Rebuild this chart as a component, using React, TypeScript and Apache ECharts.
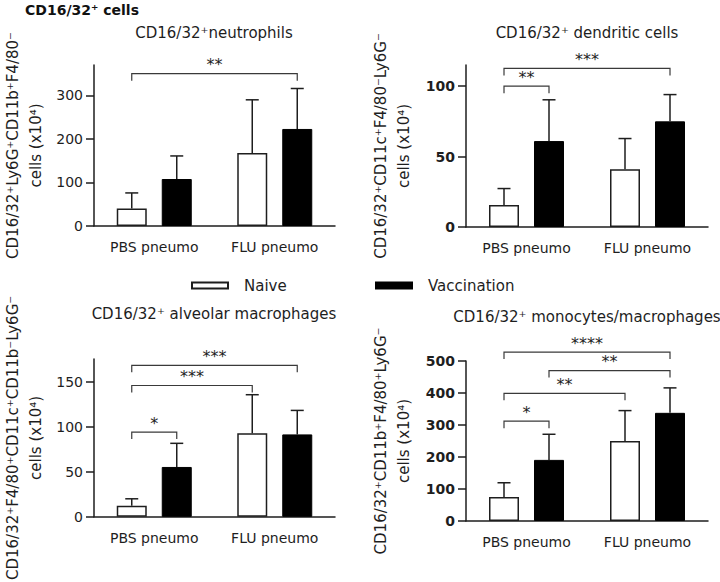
import React, { useEffect, useRef } from "react";
import * as echarts from "echarts";

// ---------- data ----------
const categories = ["PBS pneumo", "FLU pneumo"];
const groupNames = ["Naive", "Vaccination"];
const mainTitle = "CD16/32⁺ cells";
const panelTitles = [
  "CD16/32⁺neutrophils",
  "CD16/32⁺ dendritic cells",
  "CD16/32⁺ alveolar macrophages",
  "CD16/32⁺ monocytes/macrophages",
];
const yAxisNames = [
  "CD16/32⁺Ly6G⁺CD11b⁺F4/80⁻\ncells (x10⁴)",
  "CD16/32⁺CD11c⁺F4/80⁻Ly6G⁻\ncells (x10⁴)",
  "CD16/32⁺F4/80⁺CD11c⁺CD11b⁻Ly6G⁻\ncells (x10⁴)",
  "CD16/32⁺CD11b⁺F4/80⁺Ly6G⁻\ncells (x10⁴)",
];
const yMax = [370, 115, 175, 500];
const yInterval = [100, 50, 50, 100];

// means and upper error-bar ends (mean + SD), per category
const neutroNaive = [40, 168];
const neutroNaiveErr = [76, 290];
const neutroVacc = [108, 223];
const neutroVaccErr = [161, 316];

const dendNaive = [15.6, 41];
const dendNaiveErr = [27.3, 62.8];
const dendVacc = [61, 75];
const dendVaccErr = [90.3, 94];

const alvNaive = [12.4, 92.8];
const alvNaiveErr = [20, 135.4];
const alvVacc = [55.3, 91.4];
const alvVaccErr = [81.5, 118];

const monoNaive = [75, 250];
const monoNaiveErr = [119.5, 345];
const monoVacc = [191, 338];
const monoVaccErr = [271, 416];

// significance brackets: [fromCategory, fromGroup, toCategory, toGroup, yLevel, label]
const neutroBrackets: any[] = [[0, 0, 1, 1, 350, "**"]];
const dendBrackets: any[] = [
  [0, 0, 0, 1, 100, "**"],
  [0, 0, 1, 1, 112.6, "***"],
];
const alvBrackets: any[] = [
  [0, 0, 0, 1, 94, "*"],
  [0, 0, 1, 0, 145.6, "***"],
  [0, 0, 1, 1, 168, "***"],
];
const monoBrackets: any[] = [
  [0, 0, 0, 1, 312, "*"],
  [0, 0, 1, 0, 399, "**"],
  [0, 1, 1, 1, 470, "**"],
  [0, 0, 1, 1, 528, "****"],
];

const panels = [
  { naive: neutroNaive, naiveErr: neutroNaiveErr, vacc: neutroVacc, vaccErr: neutroVaccErr, brackets: neutroBrackets },
  { naive: dendNaive, naiveErr: dendNaiveErr, vacc: dendVacc, vaccErr: dendVaccErr, brackets: dendBrackets },
  { naive: alvNaive, naiveErr: alvNaiveErr, vacc: alvVacc, vaccErr: alvVaccErr, brackets: alvBrackets },
  { naive: monoNaive, naiveErr: monoNaiveErr, vacc: monoVacc, vaccErr: monoVaccErr, brackets: monoBrackets },
];

// ---------- layout / style ----------
const FONT = "'DejaVu Sans', sans-serif";
const INK = "#1e1e1e";
const grids = [
  { left: 93, top: 65, width: 242, height: 161 },
  { left: 466, top: 65, width: 242, height: 162 },
  { left: 93, top: 359, width: 242, height: 160 },
  { left: 466, top: 361, width: 242, height: 160 },
];
const titlePos = [
  [214, 33],
  [587, 33],
  [214, 314],
  [587, 317],
];
const nameGaps = [47, 51, 47, 51];
const boldTicks = [false, true, false, true];
const BAR_W = 30;
const HALF_OFF = 22.5; // (barWidth + gap) / 2

function errorSeries(panelIdx: number, means: number[], ups: number[], side: number) {
  return {
    type: "custom",
    xAxisIndex: panelIdx,
    yAxisIndex: panelIdx,
    silent: true,
    clip: false,
    z: 3,
    data: categories.map((_, i) => [i, means[i], ups[i]]),
    encode: { x: 0, y: [1, 2] },
    renderItem: (params: any, api: any) => {
      const cat = api.value(0);
      const base = api.coord([cat, api.value(1)]);
      const top = api.coord([cat, api.value(2)]);
      const x = base[0] + side * HALF_OFF;
      const st = { stroke: INK, lineWidth: 1.5 };
      return {
        type: "group",
        children: [
          { type: "line", shape: { x1: x, y1: base[1], x2: x, y2: top[1] }, style: st },
          { type: "line", shape: { x1: x - 6.5, y1: top[1], x2: x + 6.5, y2: top[1] }, style: st },
        ],
      };
    },
  };
}

function bracketSeries(panelIdx: number, brackets: any[]) {
  return {
    type: "custom",
    xAxisIndex: panelIdx,
    yAxisIndex: panelIdx,
    silent: true,
    clip: false,
    z: 4,
    data: brackets.map((b) => [b[0], b[4]]),
    encode: { x: 0, y: 1 },
    renderItem: (params: any, api: any) => {
      const b = brackets[params.dataIndex];
      const p1 = api.coord([b[0], b[4]]);
      const p2 = api.coord([b[2], b[4]]);
      const x1 = p1[0] + (b[1] ? HALF_OFF : -HALF_OFF);
      const x2 = p2[0] + (b[3] ? HALF_OFF : -HALF_OFF);
      const y = p1[1];
      return {
        type: "group",
        children: [
          {
            type: "polyline",
            shape: { points: [[x1, y + 7], [x1, y], [x2, y], [x2, y + 7]] },
            style: { stroke: "#3a3a3a", lineWidth: 1.2, fill: null },
          },
          {
            type: "text",
            x: (x1 + x2) / 2,
            y: y - 1,
            style: {
              text: b[5],
              fill: INK,
              font: `16px ${FONT}`,
              align: "center",
              verticalAlign: "bottom",
            },
          },
        ],
      };
    },
  };
}

export default function App() {
  const ref = useRef<HTMLDivElement>(null);
  useEffect(() => {
    if (!ref.current) return;
    const chart = echarts.init(ref.current, undefined, { renderer: "svg" });

    const series: any[] = [];
    panels.forEach((p, i) => {
      series.push({
        type: "bar",
        name: groupNames[0],
        xAxisIndex: i,
        yAxisIndex: i,
        data: p.naive,
        barWidth: BAR_W,
        barGap: "50%",
        itemStyle: { color: "#ffffff", borderColor: INK, borderWidth: 1.5 },
        silent: true,
      });
      series.push({
        type: "bar",
        name: groupNames[1],
        xAxisIndex: i,
        yAxisIndex: i,
        data: p.vacc,
        barWidth: BAR_W,
        barGap: "50%",
        itemStyle: { color: "#000000", borderColor: "#000000", borderWidth: 1 },
        silent: true,
      });
      series.push(errorSeries(i, p.naive, p.naiveErr, -1));
      series.push(errorSeries(i, p.vacc, p.vaccErr, 1));
      series.push(bracketSeries(i, p.brackets));
    });

    const legendBase = {
      top: 273,
      icon: "rect",
      itemWidth: 36,
      itemHeight: 6,
      selectedMode: false,
      textStyle: { color: INK, fontFamily: FONT, fontSize: 15, padding: [0, 0, 0, 11] },
    };

    const option: any = {
      animation: false,
      backgroundColor: "#ffffff",
      grid: grids.map((g) => ({ ...g, containLabel: false })),
      xAxis: grids.map((_, i) => ({
        type: "category",
        gridIndex: i,
        data: categories,
        axisLine: { lineStyle: { color: INK, width: 1.5 } },
        axisTick: { alignWithLabel: true, length: 7, lineStyle: { color: INK, width: 1.5 } },
        axisLabel: { color: INK, fontFamily: FONT, fontSize: 14, margin: 14 },
        splitLine: { show: false },
      })),
      yAxis: grids.map((_, i) => ({
        type: "value",
        gridIndex: i,
        min: 0,
        max: yMax[i],
        interval: yInterval[i],
        name: yAxisNames[i],
        nameLocation: "middle",
        nameRotate: 90,
        nameGap: nameGaps[i],
        nameTextStyle: { color: INK, fontFamily: FONT, fontSize: 15, lineHeight: 23 },
        axisLine: { show: true, lineStyle: { color: INK, width: 1.5 } },
        axisTick: { show: true, length: 8, lineStyle: { color: INK, width: 1.5 } },
        axisLabel: {
          color: INK,
          fontFamily: FONT,
          fontSize: 14,
          margin: 11,
          fontWeight: boldTicks[i] ? "bold" : "normal",
          showMaxLabel: yMax[i] % yInterval[i] === 0,
        },
        splitLine: { show: false },
      })),
      legend: [
        { ...legendBase, data: [groupNames[0]], left: 186 },
        { ...legendBase, data: [groupNames[1]], left: 370 },
      ],
      graphic: [
        {
          type: "text",
          left: 25,
          top: 3,
          style: { text: mainTitle, fill: "#111", font: `bold 14px ${FONT}` },
        },
        ...panelTitles.map((t, i) => ({
          type: "text",
          x: titlePos[i][0],
          y: titlePos[i][1],
          style: {
            text: t,
            fill: INK,
            font: `15px ${FONT}`,
            align: "center",
            verticalAlign: "middle",
          },
        })),
      ],
      series,
    };
    chart.setOption(option);
    return () => chart.dispose();
  }, []);

  return (
    <div
      ref={ref}
      style={{ position: "fixed", left: 0, top: 0, width: 720, height: 582, background: "#fff" }}
    />
  );
}
